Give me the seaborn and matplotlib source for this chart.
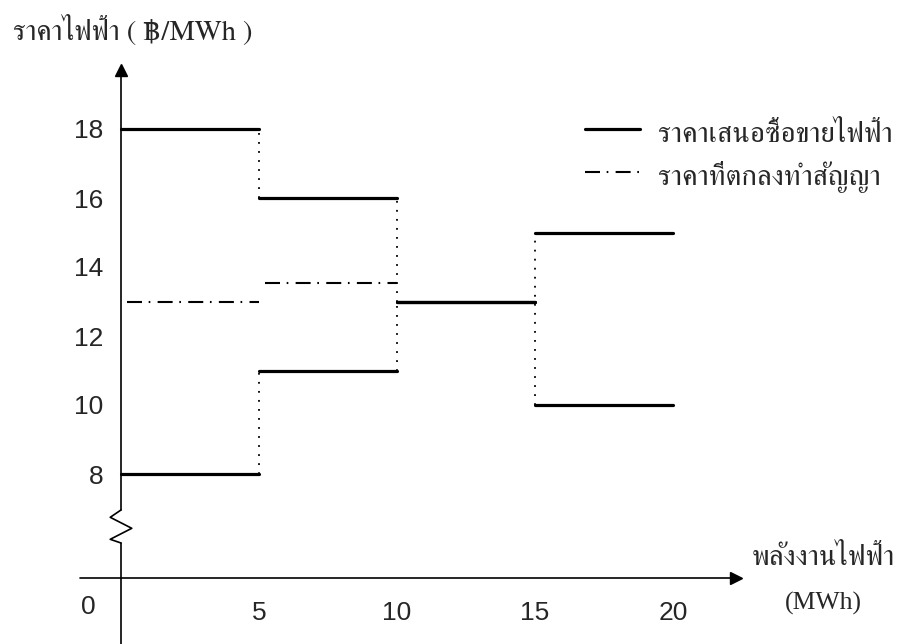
import numpy as np
import pandas as pd
import seaborn as sns
import matplotlib
matplotlib.use("Agg")
import matplotlib.pyplot as plt
from matplotlib import font_manager
from matplotlib.ft2font import FT2Font

# values
step_edges = [0, 5, 10, 15, 20]
upper_price = [18, 16, 13, 15]
lower_price = [8, 11, 13, 10]
contract_edges = [0, 5, 10]
contract_price = [13, 13.55]
x_ticks = [5, 10, 15, 20]
y_ticks = [8, 10, 12, 14, 16, 18]

y_title = "ราคาไฟฟ้า ( ฿/MWh )"
x_title = "พลังงานไฟฟ้า"
x_unit = "(MWh)"
legend_labels = ["ราคาเสนอซื้อขายไฟฟ้า", "ราคาที่ตกลงทำสัญญา"]


def thai_family():
    """First installed family that actually has Thai glyphs (serif preferred)."""
    fonts = sorted(font_manager.fontManager.ttflist, key=lambda f: "Serif" not in f.name)
    for f in fonts:
        try:
            if 0x0E23 in FT2Font(f.fname).get_charmap():
                return f.name
        except Exception:
            continue
    return "DejaVu Sans"


def step_segments(edges, values, name):
    rows = []
    for i, v in enumerate(values):
        rows.append({"x": edges[i], "y": v, "seg": f"{name}{i}"})
        rows.append({"x": edges[i + 1], "y": v, "seg": f"{name}{i}"})
    return pd.DataFrame(rows)


sns.set_theme(style="white")
THAI = thai_family()
plt.rcParams["font.family"] = ["Liberation Sans", "DejaVu Sans"]

# pixel layout of the original: x=0 at 121px, 27.6 px/unit; y=8 at 474px, 34.5 px/unit
PX_X, PX_Y = 27.6, 34.5
W, H = 901, 644
fig = plt.figure(figsize=(W / 100, H / 100), dpi=100)
ax = fig.add_axes([0, 0, 1, 1])
ax.set_xlim(-121 / PX_X, (W - 121) / PX_X)
ax.set_ylim(8 - (H - 474) / PX_Y, 8 + 474 / PX_Y)

bids = pd.concat([step_segments(step_edges, upper_price, "u"),
                  step_segments(step_edges, lower_price, "l")])
sns.lineplot(data=bids, x="x", y="y", units="seg", estimator=None,
             color="black", lw=2.3, ax=ax, legend=False)

contract = step_segments(contract_edges, contract_price, "c")
contract.loc[contract.index % 2 == 0, "x"] += 0.2
sns.lineplot(data=contract, x="x", y="y", units="seg", estimator=None,
             color="black", lw=1.5, ax=ax, legend=False)
dashdot = (0, (7.2, 3.2, 0.8, 3.5))
for line in ax.lines[-len(contract_price):]:
    line.set_linestyle(dashdot)

# dotted risers between steps
dot = dict(color="black", lw=1.3, linestyle=(0, (1, 4)))
ax.vlines(step_edges[1], upper_price[1], upper_price[0], **dot)
ax.vlines(step_edges[1], lower_price[0], lower_price[1], **dot)
ax.vlines(step_edges[2], upper_price[2], upper_price[1], **dot)
ax.vlines(step_edges[2], lower_price[1], lower_price[2], **dot)
ax.vlines(step_edges[3], lower_price[3], upper_price[3], **dot)

# axes drawn by hand: broken y axis with arrows
for s in ax.spines.values():
    s.set_visible(False)
base_y = 8 - 104 / PX_Y
ax.spines["bottom"].set_position(("data", base_y))
ax.spines["left"].set_position(("data", 0))
top_y = 8 + (474 - 76) / PX_Y
ax.plot([-1.5, 22.1], [base_y, base_y], color="black", lw=1.2)
ax.plot([0, 0], [ax.get_ylim()[0], 6.0], color="black", lw=1.2)
ax.plot([0, 0], [6.957, top_y], color="black", lw=1.2)
ax.plot([0, -0.39, 0.39, -0.39, 0], [6.0, 6.107, 6.426, 6.745, 6.957], color="black", lw=1.2)
ax.plot([0], [top_y + 0.18], marker="^", ms=9, color="black", clip_on=False)
ax.plot([22.28], [base_y], marker=">", ms=9, color="black", clip_on=False)

ax.set_xticks(x_ticks)
ax.set_yticks(y_ticks)
ax.set_xlabel("")
ax.set_ylabel("")
ax.tick_params(axis="x", direction="inout", length=13, width=1.2, pad=10, labelsize=19)
ax.tick_params(axis="y", direction="inout", length=9, width=1.2, pad=8, labelsize=19)
ax.text(-33 / PX_X, base_y - 29 / PX_Y, "0", fontsize=19, ha="center", va="center")


def px_text(x, y, s, **kw):
    fig.text(x / W, 1 - y / H, s, va="baseline", **kw)


thai = [THAI, "DejaVu Sans"]
px_text(13, 40, y_title, family=thai, fontsize=20.5)
px_text(752, 565, x_title, family=thai, fontsize=21)
px_text(823, 610, x_unit, family="Liberation Serif", fontsize=18.5, ha="center")

# legend drawn in pixel positions to sit like the original
legend_styles = [dict(lw=2.3, linestyle="-"), dict(lw=1.5, linestyle=dashdot)]
for i, (label, style) in enumerate(zip(legend_labels, legend_styles)):
    y = 129 + 43 * i
    fig.add_artist(plt.Line2D([585 / W, 640 / W], [1 - y / H] * 2, color="black", **style))
    px_text(658, y + 13, label, family=thai, fontsize=21)

fig.savefig("out.png", dpi=100)
